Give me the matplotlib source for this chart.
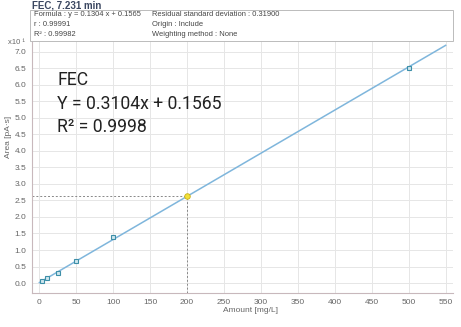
import matplotlib
matplotlib.use('Agg')
import matplotlib.pyplot as plt
import numpy as np

# ======================
# DATA
# ======================
amount = [4, 10, 25, 50, 100, 500]          # mg/L
area = [0.06, 0.15, 0.31, 0.68, 1.38, 6.51]  # x10^1 pA*s
check_amount = 200
check_area = 2.62
slope = 0.01304
intercept = 0.01565
x_ticks = [0, 50, 100, 150, 200, 250, 300, 350, 400, 450, 500, 550]
y_ticks = [0.0, 0.5, 1.0, 1.5, 2.0, 2.5, 3.0, 3.5, 4.0, 4.5, 5.0, 5.5, 6.0, 6.5, 7.0]

grey = '#666666'
plt.rcParams['font.family'] = ['Liberation Sans', 'DejaVu Sans']

fig = plt.figure(figsize=(4.61, 3.27), dpi=100)
ax = fig.add_axes([32 / 461, 34 / 327, 421 / 461, 253 / 327])

# regression line
xl = np.array([0, 550])
ax.plot(xl, slope * xl + intercept, color='#7fb6dc', linewidth=1.1, zorder=3)

# calibration points
ax.plot(amount, area, linestyle='none', marker='s', markersize=3.2,
        markerfacecolor='#cfe6ee', markeredgecolor='#3d8fa8', markeredgewidth=0.8, zorder=4)

# check point + dashed guides
ax.plot([-10, check_amount], [check_area, check_area], color='#888888',
        linestyle=(0, (2, 2)), linewidth=0.7, zorder=2)
ax.plot([check_amount, check_amount], [-0.3, check_area], color='#888888',
        linestyle=(0, (2, 2)), linewidth=0.7, zorder=2)
ax.plot([check_amount], [check_area], linestyle='none', marker='o', markersize=4,
        markerfacecolor='#f2e13a', markeredgecolor='#c9b21a', markeredgewidth=0.6, zorder=5)

ax.set_xlim(-10, 560)
ax.set_ylim(-0.3, 7.35)
ax.set_xticks(x_ticks)
ax.set_yticks(y_ticks)
ax.set_yticklabels(['%.1f' % v for v in y_ticks])
ax.tick_params(labelsize=6, colors=grey, length=0, pad=4)
ax.grid(color='#e6e6e6', linewidth=0.7)
ax.set_axisbelow(True)
for s in ['top', 'right']:
    ax.spines[s].set_visible(False)
for s in ['left', 'bottom']:
    ax.spines[s].set_color('#c8b8bc')
    ax.spines[s].set_linewidth(0.8)

# axis labels
fig.text(8 / 461, 190 / 327, 'Area [pA\u00b7s]', rotation=90, fontsize=6,
         color=grey, ha='center', va='center')
fig.text(250 / 461, 1 - 311 / 327, 'Amount [mg/L]', fontsize=6, color=grey,
         ha='center', va='center')
fig.text(8 / 461, 1 - 42 / 327, 'x10 \u00b9', fontsize=5.5, color=grey,
         ha='left', va='center')

# annotation text
big = ['Roboto', 'DejaVu Sans']
ax.text(57 / 461, 1 - 80 / 327, 'FEC', transform=fig.transFigure, fontsize=12.7,
        color='#222222', va='center', family=big)
ax.text(57 / 461, 1 - 104 / 327, 'Y = 0.3104x + 0.1565', transform=fig.transFigure,
        fontsize=12.7, color='#222222', va='center', family=big)
ax.text(57 / 461, 1 - 127 / 327, 'R\u00b2 = 0.9998', transform=fig.transFigure,
        fontsize=12.7, color='#222222', va='center', family=big)

# header
fig.text(32 / 461, 1 - 6 / 327, 'FEC, 7.231 min', fontsize=7, fontweight='bold',
         color='#3a4660', ha='left', va='center')
box = plt.Rectangle((30 / 461, 1 - 41 / 327), 423 / 461, 31 / 327, transform=fig.transFigure,
                    facecolor='white', edgecolor='#bbbbbb', linewidth=0.7)
fig.patches.append(box)
info_left = ['Formula : y = 0.1304 x + 0.1565', 'r : 0.99991', 'R\u00b2 : 0.99982']
info_right = ['Residual standard deviation : 0.31900', 'Origin : Include', 'Weighting method : None']
for i in range(3):
    yy = 1 - (15 + i * 9.5) / 327
    fig.text(34 / 461, yy, info_left[i], fontsize=5.4, color='#444444', va='center')
    fig.text(152 / 461, yy, info_right[i], fontsize=5.4, color='#444444', va='center')

plt.savefig('out.png', dpi=100)
